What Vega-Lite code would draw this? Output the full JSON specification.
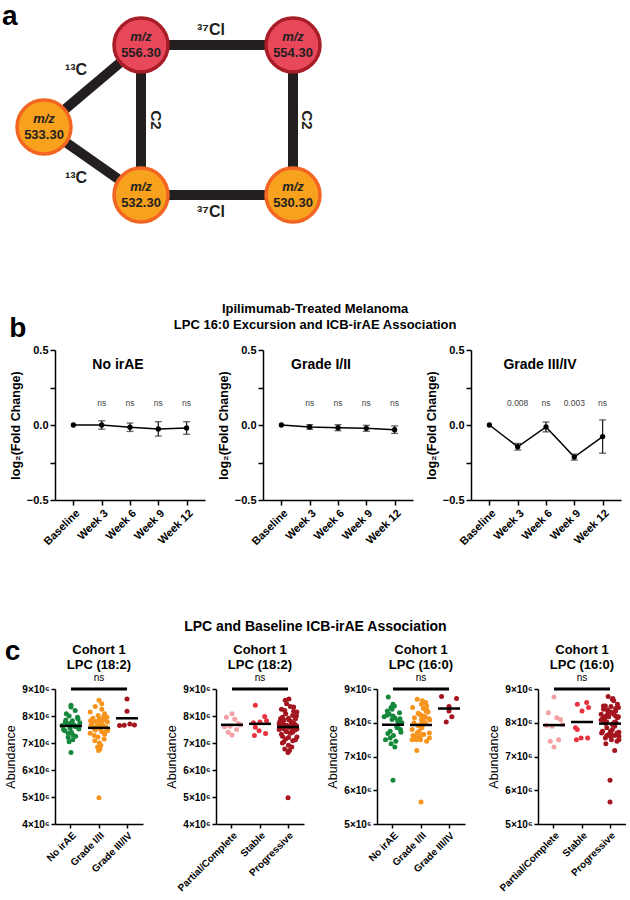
{
"$schema":"https://vega.github.io/schema/vega-lite/v6.json",
"background":"white",
"padding":{"left":2,"top":0,"right":0,"bottom":0},
"config":{"font":"Liberation Sans","view":{"stroke":null},
"axis":{"labelFont":"Liberation Sans","labelFontWeight":"bold","labelColor":"#000","domainColor":"#000","tickColor":"#000","domainWidth":1.5,"tickWidth":1.5,"grid":false,"titleColor":"#000","titleFont":"Liberation Sans","labelOverlap":false},
"title":{"font":"Liberation Sans","fontWeight":"bold","color":"#000","subtitleFont":"Liberation Sans","subtitleColor":"#000"}},
"datasets":{
"nodes":[{"mz":"556.30","k":"r","x":136,"y":45},{"mz":"554.30","k":"r","x":288,"y":45},{"mz":"533.30","k":"o","x":39,"y":127},{"mz":"532.30","k":"o","x":136,"y":195},{"mz":"530.30","k":"o","x":288,"y":195}],
"edges":[{"x1":136,"y1":45,"x2":288,"y2":45},{"x1":288,"y1":45,"x2":288,"y2":195},{"x1":136,"y1":195,"x2":288,"y2":195},{"x1":136,"y1":45,"x2":136,"y2":195},{"x1":136,"y1":45,"x2":39,"y2":127},{"x1":39,"y1":127,"x2":136,"y2":195}],
"elabels":[{"t":"³⁷Cl","x":206,"y":30},{"t":"³⁷Cl","x":206,"y":212},{"t":"C2","x":151,"y":120},{"t":"C2","x":302,"y":120},{"t":"¹³C","x":71,"y":70},{"t":"¹³C","x":71,"y":178}],
"letter":[{"t":"a","x":-3,"y":17}],
"b":[
{"p":"No irAE","w":"Baseline","m":0,"e":0,"lab":""},
{"p":"No irAE","w":"Week 3","m":0.0,"e":0.028,"lab":"ns"},
{"p":"No irAE","w":"Week 6","m":-0.015,"e":0.028,"lab":"ns"},
{"p":"No irAE","w":"Week 9","m":-0.026,"e":0.048,"lab":"ns"},
{"p":"No irAE","w":"Week 12","m":-0.02,"e":0.042,"lab":"ns"},
{"p":"Grade I/II","w":"Baseline","m":0,"e":0,"lab":""},
{"p":"Grade I/II","w":"Week 3","m":-0.013,"e":0.015,"lab":"ns"},
{"p":"Grade I/II","w":"Week 6","m":-0.018,"e":0.02,"lab":"ns"},
{"p":"Grade I/II","w":"Week 9","m":-0.022,"e":0.02,"lab":"ns"},
{"p":"Grade I/II","w":"Week 12","m":-0.031,"e":0.025,"lab":"ns"},
{"p":"Grade III/IV","w":"Baseline","m":0,"e":0,"lab":""},
{"p":"Grade III/IV","w":"Week 3","m":-0.145,"e":0.022,"lab":"0.008"},
{"p":"Grade III/IV","w":"Week 6","m":-0.013,"e":0.033,"lab":"ns"},
{"p":"Grade III/IV","w":"Week 9","m":-0.214,"e":0.02,"lab":"0.003"},
{"p":"Grade III/IV","w":"Week 12","m":-0.077,"e":0.111,"lab":"ns"}],
"c":[
{"g":"No irAE","r":"Partial/Complete","a":8.08,"b":8.76,"j":-0.5,"k":0},
{"g":"No irAE","r":"Partial/Complete","a":7.95,"b":8.30,"j":0.7,"k":-0.6},
{"g":"No irAE","r":"Partial/Complete","a":7.72,"b":8.10,"j":-0.1,"k":0.7},
{"g":"No irAE","r":"Partial/Complete","a":7.62,"b":7.90,"j":0.4,"k":-0.2},
{"g":"No irAE","r":"Partial/Complete","a":7.50,"b":7.50,"j":-0.8,"k":0.5},
{"g":"No irAE","r":"Partial/Complete","a":7.30,"b":7.28,"j":0.2,"k":0},
{"g":"No irAE","r":"Stable","a":8.40,"b":8.55,"j":0,"k":-0.5},
{"g":"No irAE","r":"Stable","a":7.78,"b":8.35,"j":-0.6,"k":0},
{"g":"No irAE","r":"Stable","a":7.58,"b":7.80,"j":0.8,"k":-0.5},
{"g":"No irAE","r":"Stable","a":7.35,"b":7.55,"j":-0.3,"k":0.6},
{"g":"No irAE","r":"Progressive","a":8.33,"b":8.20,"j":0,"k":0.6},
{"g":"No irAE","r":"Progressive","a":8.20,"b":7.85,"j":0.45,"k":-0.35},
{"g":"No irAE","r":"Progressive","a":8.00,"b":8.45,"j":-0.2,"k":0.9},
{"g":"No irAE","r":"Progressive","a":7.90,"b":8.12,"j":0.75,"k":-0.8},
{"g":"No irAE","r":"Progressive","a":7.85,"b":7.68,"j":-0.55,"k":0.1},
{"g":"No irAE","r":"Progressive","a":7.82,"b":8.50,"j":0.15,"k":-0.5},
{"g":"No irAE","r":"Progressive","a":7.75,"b":8.00,"j":0.95,"k":0.4},
{"g":"No irAE","r":"Progressive","a":7.70,"b":8.25,"j":-0.4,"k":-0.95},
{"g":"No irAE","r":"Progressive","a":7.68,"b":7.45,"j":0.3,"k":0.75},
{"g":"No irAE","r":"Progressive","a":7.65,"b":8.18,"j":-0.95,"k":-0.15},
{"g":"No irAE","r":"Progressive","a":7.60,"b":7.95,"j":0.6,"k":0.25},
{"g":"No irAE","r":"Progressive","a":7.55,"b":8.40,"j":-0.1,"k":-0.7},
{"g":"No irAE","r":"Progressive","a":7.52,"b":7.72,"j":0.85,"k":0.95},
{"g":"No irAE","r":"Progressive","a":7.45,"b":8.22,"j":-0.65,"k":-0.25},
{"g":"No irAE","r":"Progressive","a":7.40,"b":7.62,"j":0.05,"k":0.5},
{"g":"No irAE","r":"Progressive","a":7.25,"b":8.05,"j":0.5,"k":-0.6},
{"g":"No irAE","r":"Progressive","a":7.20,"b":7.75,"j":-0.3,"k":0.05},
{"g":"No irAE","r":"Progressive","a":7.12,"b":8.15,"j":0.2,"k":0.8},
{"g":"No irAE","r":"Progressive","a":7.05,"b":7.38,"j":-0.2,"k":-0.45},
{"g":"No irAE","r":"Progressive","a":6.65,"b":6.30,"j":0,"k":0},
{"g":"Grade I/II","r":"Partial/Complete","a":7.88,"b":8.15,"j":-0.7,"k":0.3},
{"g":"Grade I/II","r":"Partial/Complete","a":7.68,"b":7.95,"j":0.2,"k":0.9},
{"g":"Grade I/II","r":"Partial/Complete","a":7.60,"b":7.92,"j":-0.3,"k":-0.8},
{"g":"Grade I/II","r":"Partial/Complete","a":7.40,"b":7.45,"j":0.6,"k":-0.4},
{"g":"Grade I/II","r":"Stable","a":7.98,"b":8.60,"j":0.5,"k":0.5},
{"g":"Grade I/II","r":"Stable","a":7.82,"b":8.45,"j":-0.9,"k":0.7},
{"g":"Grade I/II","r":"Stable","a":7.75,"b":7.85,"j":0.1,"k":-0.7},
{"g":"Grade I/II","r":"Stable","a":7.45,"b":7.55,"j":0.9,"k":-0.1},
{"g":"Grade I/II","r":"Stable","a":7.28,"b":7.50,"j":-0.5,"k":-0.6},
{"g":"Grade I/II","r":"Progressive","a":8.58,"b":8.22,"j":0,"k":-0.3},
{"g":"Grade I/II","r":"Progressive","a":8.45,"b":7.65,"j":0.3,"k":-0.15},
{"g":"Grade I/II","r":"Progressive","a":8.35,"b":8.70,"j":-0.4,"k":0.25},
{"g":"Grade I/II","r":"Progressive","a":8.25,"b":8.05,"j":0.3,"k":-0.7},
{"g":"Grade I/II","r":"Progressive","a":8.15,"b":7.50,"j":-0.95,"k":0.95},
{"g":"Grade I/II","r":"Progressive","a":8.08,"b":8.38,"j":0.6,"k":-0.25},
{"g":"Grade I/II","r":"Progressive","a":8.02,"b":7.90,"j":-0.1,"k":0.5},
{"g":"Grade I/II","r":"Progressive","a":7.95,"b":8.12,"j":0.85,"k":-0.6},
{"g":"Grade I/II","r":"Progressive","a":7.92,"b":7.60,"j":-0.65,"k":0.05},
{"g":"Grade I/II","r":"Progressive","a":7.90,"b":8.55,"j":0.05,"k":0.8},
{"g":"Grade I/II","r":"Progressive","a":7.85,"b":7.98,"j":0.5,"k":-0.45},
{"g":"Grade I/II","r":"Progressive","a":7.80,"b":8.28,"j":-0.3,"k":0.35},
{"g":"Grade I/II","r":"Progressive","a":7.78,"b":7.70,"j":0.9,"k":-0.9},
{"g":"Grade I/II","r":"Progressive","a":7.72,"b":8.00,"j":-0.75,"k":0.65},
{"g":"Grade I/II","r":"Progressive","a":7.70,"b":8.42,"j":0.25,"k":0.6},
{"g":"Grade I/II","r":"Progressive","a":7.66,"b":7.62,"j":-0.85,"k":-0.35},
{"g":"Grade I/II","r":"Progressive","a":7.64,"b":8.18,"j":0.45,"k":0.9},
{"g":"Grade I/II","r":"Progressive","a":7.62,"b":7.75,"j":-0.2,"k":-0.8},
{"g":"Grade I/II","r":"Progressive","a":7.58,"b":8.32,"j":0.75,"k":0.1},
{"g":"Grade I/II","r":"Progressive","a":7.55,"b":7.55,"j":-0.55,"k":-0.5},
{"g":"Grade I/II","r":"Progressive","a":7.52,"b":8.65,"j":0.15,"k":0.4},
{"g":"Grade I/II","r":"Progressive","a":7.50,"b":8.08,"j":0.95,"k":-0.95},
{"g":"Grade I/II","r":"Progressive","a":7.48,"b":7.70,"j":-0.4,"k":0.75},
{"g":"Grade I/II","r":"Progressive","a":7.42,"b":8.20,"j":0.3,"k":-0.15},
{"g":"Grade I/II","r":"Progressive","a":7.36,"b":7.80,"j":-0.95,"k":0.25},
{"g":"Grade I/II","r":"Progressive","a":7.32,"b":8.50,"j":0.6,"k":-0.7},
{"g":"Grade I/II","r":"Progressive","a":7.22,"b":7.60,"j":-0.1,"k":0.95},
{"g":"Grade I/II","r":"Progressive","a":7.15,"b":8.35,"j":0.55,"k":-0.25},
{"g":"Grade I/II","r":"Progressive","a":7.08,"b":7.18,"j":-0.45,"k":0.5},
{"g":"Grade I/II","r":"Progressive","a":7.00,"b":8.10,"j":0.05,"k":-0.6},
{"g":"Grade I/II","r":"Progressive","a":6.92,"b":7.65,"j":0.2,"k":0.05},
{"g":"Grade I/II","r":"Progressive","a":6.85,"b":8.25,"j":-0.15,"k":0.4},
{"g":"Grade I/II","r":"Progressive","a":6.78,"b":8.02,"j":0.1,"k":-0.35},
{"g":"Grade I/II","r":"Progressive","a":6.72,"b":7.50,"j":-0.05,"k":0.15},
{"g":"Grade I/II","r":"Progressive","a":4.97,"b":5.65,"j":0,"k":0},
{"g":"Grade III/IV","r":"Progressive","a":8.63,"b":8.48,"j":0,"k":0.1},
{"g":"Grade III/IV","r":"Progressive","a":8.18,"b":8.35,"j":0,"k":0.6},
{"g":"Grade III/IV","r":"Progressive","a":7.65,"b":8.78,"j":-0.8,"k":-0.2},
{"g":"Grade III/IV","r":"Progressive","a":7.67,"b":8.72,"j":0.8,"k":0.3},
{"g":"Grade III/IV","r":"Progressive","a":7.70,"b":8.18,"j":0.3,"k":-0.6},
{"g":"Grade III/IV","r":"Progressive","a":7.66,"b":8.02,"j":-0.3,"k":0.55}]
},
"columns":1,
"align":"none",
"spacing":73,
"concat":[
{"width":330,"height":230,
"layer":[
{"data":{"name":"edges"},"mark":{"type":"rule","strokeWidth":10,"color":"#231f20","strokeCap":"butt"},
"encoding":{"x":{"field":"x1","type":"quantitative","scale":{"domain":[50,380],"nice":false},"axis":null},"y":{"field":"y1","type":"quantitative","scale":{"domain":[0,230],"nice":false,"reverse":true},"axis":null},"x2":{"field":"x2"},"y2":{"field":"y2"}}},
{"data":{"name":"nodes"},"mark":{"type":"circle","size":2916,"strokeWidth":3.5,"opacity":1},
"encoding":{"x":{"field":"x","type":"quantitative"},"y":{"field":"y","type":"quantitative"},
"fill":{"field":"k","type":"nominal","scale":{"domain":["r","o"],"range":["#e9485b","#f7a11c"]},"legend":null},
"stroke":{"field":"k","type":"nominal","scale":{"domain":["r","o"],"range":["#a81d27","#f26522"]},"legend":null}}},
{"data":{"name":"nodes"},"mark":{"type":"text","text":"m/z","dy":-8,"fontStyle":"italic","fontWeight":"bold","fontSize":13,"color":"#231f20"},
"encoding":{"x":{"field":"x","type":"quantitative"},"y":{"field":"y","type":"quantitative"}}},
{"data":{"name":"nodes"},"mark":{"type":"text","dy":8,"fontWeight":"bold","fontSize":13,"color":"#231f20"},
"encoding":{"x":{"field":"x","type":"quantitative"},"y":{"field":"y","type":"quantitative"},"text":{"field":"mz"}}},
{"data":{"name":"elabels"},"transform":[{"filter":"datum.t != 'C2'"}],"mark":{"type":"text","fontWeight":"bold","fontSize":16,"color":"#231f20"},
"encoding":{"x":{"field":"x","type":"quantitative"},"y":{"field":"y","type":"quantitative"},"text":{"field":"t"}}},
{"data":{"name":"elabels"},"transform":[{"filter":"datum.t == 'C2'"}],"mark":{"type":"text","fontWeight":"bold","fontSize":15,"angle":90,"color":"#231f20"},
"encoding":{"x":{"field":"x","type":"quantitative"},"y":{"field":"y","type":"quantitative"},"text":{"field":"t"}}},
{"data":{"name":"letter"},"mark":{"type":"text","fontWeight":"bold","fontSize":28,"align":"left","color":"#000"},
"encoding":{"x":{"field":"x","type":"quantitative"},"y":{"field":"y","type":"quantitative"},"text":{"field":"t"}}}
]},
{"title":{"text":"b","anchor":"start","fontSize":28,"dy":40,"offset":0},
"vconcat":[{"title":{"text":["Ipilimumab-Treated Melanoma","LPC 16:0 Excursion and ICB-irAE Association"],"fontSize":13,"lineHeight":16,"offset":12,"anchor":"middle"},
"spacing":12,
"hconcat":[
{"width":150,"height":150,"title":{"text":"No irAE","fontSize":14,"offset":-28,"dx":-12},
"data":{"name":"b"},"transform":[{"filter":"datum.p == 'No irAE'"}],
"encoding":{"x":{"field":"w","type":"nominal","sort":["Baseline","Week 3","Week 6","Week 9","Week 12"],"scale":{"type":"point","padding":0.65},"axis":{"title":null,"labelAngle":-45,"labelFontSize":11,"tickSize":5}},
"y":{"field":"m","type":"quantitative","scale":{"domain":[-0.5,0.5],"nice":false},"axis":{"title":"log₂(Fold  Change)","titleFontSize":12.5,"titleFontWeight":"bold","values":[-0.5,-0.25,0,0.25,0.5],"labelExpr":"abs(datum.value)==0.25 ? '' : format(datum.value,'.1f')","labelFontSize":11,"tickSize":5}}},
"layer":[
{"data":{"values":[{}]},"mark":{"type":"rule","strokeDash":[1.5,3],"strokeWidth":1.6,"color":"#000"},"encoding":{"x":null,"y":{"datum":0}}},
{"mark":{"type":"line","color":"#000","strokeWidth":1.5}},
{"transform":[{"filter":"datum.e > 0"}],"mark":{"type":"errorbar","ticks":{"size":7},"color":"#222","thickness":1.3},"encoding":{"yError":{"field":"e"}}},
{"mark":{"type":"point","filled":true,"size":28,"color":"#000","opacity":1}},
{"mark":{"type":"text","fontSize":8.5,"color":"#444"},"encoding":{"y":{"datum":0.15},"text":{"field":"lab"}}}
]},
{"width":150,"height":150,"title":{"text":"Grade I/II","fontSize":14,"offset":-28,"dx":-17},
"data":{"name":"b"},"transform":[{"filter":"datum.p == 'Grade I/II'"}],
"encoding":{"x":{"field":"w","type":"nominal","sort":["Baseline","Week 3","Week 6","Week 9","Week 12"],"scale":{"type":"point","padding":0.65},"axis":{"title":null,"labelAngle":-45,"labelFontSize":11,"tickSize":5}},
"y":{"field":"m","type":"quantitative","scale":{"domain":[-0.5,0.5],"nice":false},"axis":{"title":"log₂(Fold  Change)","titleFontSize":12.5,"titleFontWeight":"bold","values":[-0.5,-0.25,0,0.25,0.5],"labelExpr":"abs(datum.value)==0.25 ? '' : format(datum.value,'.1f')","labelFontSize":11,"tickSize":5}}},
"layer":[
{"data":{"values":[{}]},"mark":{"type":"rule","strokeDash":[1.5,3],"strokeWidth":1.6,"color":"#000"},"encoding":{"x":null,"y":{"datum":0}}},
{"mark":{"type":"line","color":"#000","strokeWidth":1.5}},
{"transform":[{"filter":"datum.e > 0"}],"mark":{"type":"errorbar","ticks":{"size":7},"color":"#222","thickness":1.3},"encoding":{"yError":{"field":"e"}}},
{"mark":{"type":"point","filled":true,"size":28,"color":"#000","opacity":1}},
{"mark":{"type":"text","fontSize":8.5,"color":"#444"},"encoding":{"y":{"datum":0.15},"text":{"field":"lab"}}}
]},
{"width":150,"height":150,"title":{"text":"Grade  III/IV","fontSize":14,"offset":-28,"dx":-6},
"data":{"name":"b"},"transform":[{"filter":"datum.p == 'Grade III/IV'"}],
"encoding":{"x":{"field":"w","type":"nominal","sort":["Baseline","Week 3","Week 6","Week 9","Week 12"],"scale":{"type":"point","padding":0.65},"axis":{"title":null,"labelAngle":-45,"labelFontSize":11,"tickSize":5}},
"y":{"field":"m","type":"quantitative","scale":{"domain":[-0.5,0.5],"nice":false},"axis":{"title":"log₂(Fold  Change)","titleFontSize":12.5,"titleFontWeight":"bold","values":[-0.5,-0.25,0,0.25,0.5],"labelExpr":"abs(datum.value)==0.25 ? '' : format(datum.value,'.1f')","labelFontSize":11,"tickSize":5}}},
"layer":[
{"data":{"values":[{}]},"mark":{"type":"rule","strokeDash":[1.5,3],"strokeWidth":1.6,"color":"#000"},"encoding":{"x":null,"y":{"datum":0}}},
{"mark":{"type":"line","color":"#000","strokeWidth":1.5}},
{"transform":[{"filter":"datum.e > 0"}],"mark":{"type":"errorbar","ticks":{"size":7},"color":"#222","thickness":1.3},"encoding":{"yError":{"field":"e"}}},
{"mark":{"type":"point","filled":true,"size":28,"color":"#000","opacity":1}},
{"mark":{"type":"text","fontSize":8.5,"color":"#444"},"encoding":{"y":{"datum":0.15},"text":{"field":"lab"}}}
]}
]}]},
{"title":{"text":"c","anchor":"start","fontSize":28,"dy":46,"offset":0},
"vconcat":[{"title":{"text":"LPC and Baseline ICB-irAE Association","fontSize":14,"offset":10,"anchor":"middle"},
"spacing":22,
"hconcat":[
{"width":88,"height":135,"title":{"text":["Cohort 1","LPC (18:2)"],"subtitle":"ns","fontSize":13,"lineHeight":15,"subtitleFontSize":10,"subtitlePadding":1,"offset":1},
"data":{"name":"c"},
"encoding":{"y":{"field":"a","type":"quantitative","scale":{"domain":[4,9],"nice":false,"zero":false},"axis":{"title":"Abundance","titleFontSize":12.5,"titleFontWeight":"normal","values":[4,5,6,7,8,9],"labelExpr":"datum.value + '×10⁶'","labelFontSize":10,"labelOverlap":false,"tickSize":4}}},
"layer":[
{"mark":{"type":"circle","size":25,"opacity":1},"encoding":{
"x":{"field":"g","type":"nominal","sort":["No irAE","Grade I/II","Grade III/IV"],"scale":{"type":"band","paddingInner":0.2,"paddingOuter":0.17},"axis":{"title":null,"labelAngle":-45,"labelFontSize":10,"tickSize":4}},
"xOffset":{"field":"j","type":"quantitative","scale":{"domain":[-1.2,1.2]}},
"color":{"field":"g","type":"nominal","scale":{"domain":["No irAE","Grade I/II","Grade III/IV","Partial/Complete","Stable","Progressive"],"range":["#16883c","#f7941d","#a3151f","#f5a0a5","#e8323f","#a3151f"]},"legend":null}}},
{"transform":[{"aggregate":[{"op":"mean","field":"a","as":"a"}],"groupby":["g"]}],"mark":{"type":"tick","color":"#000","opacity":1,"thickness":2.5,"size":22,"orient":"horizontal"},"encoding":{"x":{"field":"g","type":"nominal","sort":["No irAE","Grade I/II","Grade III/IV"]}}},
{"data":{"values":[{"a":9}]},"mark":{"type":"rule","strokeWidth":3,"color":"#000"},"encoding":{"x":{"datum":"No irAE"},"x2":{"datum":"Grade III/IV"}}}
]},
{"width":88,"height":135,"title":{"text":["Cohort 1","LPC (18:2)"],"subtitle":"ns","fontSize":13,"lineHeight":15,"subtitleFontSize":10,"subtitlePadding":1,"offset":1},
"data":{"name":"c"},
"encoding":{"y":{"field":"a","type":"quantitative","scale":{"domain":[4,9],"nice":false,"zero":false},"axis":{"title":"Abundance","titleFontSize":12.5,"titleFontWeight":"normal","values":[4,5,6,7,8,9],"labelExpr":"datum.value + '×10⁶'","labelFontSize":10,"labelOverlap":false,"tickSize":4}}},
"layer":[
{"mark":{"type":"circle","size":25,"opacity":1},"encoding":{
"x":{"field":"r","type":"nominal","sort":["Partial/Complete","Stable","Progressive"],"scale":{"type":"band","paddingInner":0.2,"paddingOuter":0.17},"axis":{"title":null,"labelAngle":-45,"labelFontSize":10,"tickSize":4}},
"xOffset":{"field":"k","type":"quantitative","scale":{"domain":[-1.2,1.2]}},
"color":{"field":"r","type":"nominal","scale":{"domain":["No irAE","Grade I/II","Grade III/IV","Partial/Complete","Stable","Progressive"],"range":["#16883c","#f7941d","#a3151f","#f5a0a5","#e8323f","#a3151f"]},"legend":null}}},
{"transform":[{"aggregate":[{"op":"mean","field":"a","as":"a"}],"groupby":["r"]}],"mark":{"type":"tick","color":"#000","opacity":1,"thickness":2.5,"size":22,"orient":"horizontal"},"encoding":{"x":{"field":"r","type":"nominal","sort":["Partial/Complete","Stable","Progressive"]}}},
{"data":{"values":[{"a":9}]},"mark":{"type":"rule","strokeWidth":3,"color":"#000"},"encoding":{"x":{"datum":"Partial/Complete"},"x2":{"datum":"Progressive"}}}
]},
{"width":88,"height":135,"title":{"text":["Cohort 1","LPC (16:0)"],"subtitle":"ns","fontSize":13,"lineHeight":15,"subtitleFontSize":10,"subtitlePadding":1,"offset":1},
"data":{"name":"c"},
"encoding":{"y":{"field":"b","type":"quantitative","scale":{"domain":[5,9],"nice":false,"zero":false},"axis":{"title":"Abundance","titleFontSize":12.5,"titleFontWeight":"normal","values":[5,6,7,8,9],"labelExpr":"datum.value + '×10⁶'","labelFontSize":10,"labelOverlap":false,"tickSize":4}}},
"layer":[
{"mark":{"type":"circle","size":25,"opacity":1},"encoding":{
"x":{"field":"g","type":"nominal","sort":["No irAE","Grade I/II","Grade III/IV"],"scale":{"type":"band","paddingInner":0.2,"paddingOuter":0.17},"axis":{"title":null,"labelAngle":-45,"labelFontSize":10,"tickSize":4}},
"xOffset":{"field":"j","type":"quantitative","scale":{"domain":[-1.2,1.2]}},
"color":{"field":"g","type":"nominal","scale":{"domain":["No irAE","Grade I/II","Grade III/IV","Partial/Complete","Stable","Progressive"],"range":["#16883c","#f7941d","#a3151f","#f5a0a5","#e8323f","#a3151f"]},"legend":null}}},
{"transform":[{"aggregate":[{"op":"mean","field":"b","as":"b"}],"groupby":["g"]}],"mark":{"type":"tick","color":"#000","opacity":1,"thickness":2.5,"size":22,"orient":"horizontal"},"encoding":{"x":{"field":"g","type":"nominal","sort":["No irAE","Grade I/II","Grade III/IV"]}}},
{"data":{"values":[{"b":9}]},"mark":{"type":"rule","strokeWidth":3,"color":"#000"},"encoding":{"x":{"datum":"No irAE"},"x2":{"datum":"Grade III/IV"}}}
]},
{"width":88,"height":135,"title":{"text":["Cohort 1","LPC (16:0)"],"subtitle":"ns","fontSize":13,"lineHeight":15,"subtitleFontSize":10,"subtitlePadding":1,"offset":1},
"data":{"name":"c"},
"encoding":{"y":{"field":"b","type":"quantitative","scale":{"domain":[5,9],"nice":false,"zero":false},"axis":{"title":"Abundance","titleFontSize":12.5,"titleFontWeight":"normal","values":[5,6,7,8,9],"labelExpr":"datum.value + '×10⁶'","labelFontSize":10,"labelOverlap":false,"tickSize":4}}},
"layer":[
{"mark":{"type":"circle","size":25,"opacity":1},"encoding":{
"x":{"field":"r","type":"nominal","sort":["Partial/Complete","Stable","Progressive"],"scale":{"type":"band","paddingInner":0.2,"paddingOuter":0.17},"axis":{"title":null,"labelAngle":-45,"labelFontSize":10,"tickSize":4}},
"xOffset":{"field":"k","type":"quantitative","scale":{"domain":[-1.2,1.2]}},
"color":{"field":"r","type":"nominal","scale":{"domain":["No irAE","Grade I/II","Grade III/IV","Partial/Complete","Stable","Progressive"],"range":["#16883c","#f7941d","#a3151f","#f5a0a5","#e8323f","#a3151f"]},"legend":null}}},
{"transform":[{"aggregate":[{"op":"mean","field":"b","as":"b"}],"groupby":["r"]}],"mark":{"type":"tick","color":"#000","opacity":1,"thickness":2.5,"size":22,"orient":"horizontal"},"encoding":{"x":{"field":"r","type":"nominal","sort":["Partial/Complete","Stable","Progressive"]}}},
{"data":{"values":[{"b":9}]},"mark":{"type":"rule","strokeWidth":3,"color":"#000"},"encoding":{"x":{"datum":"Partial/Complete"},"x2":{"datum":"Progressive"}}}
]}
]}]}
]
}
